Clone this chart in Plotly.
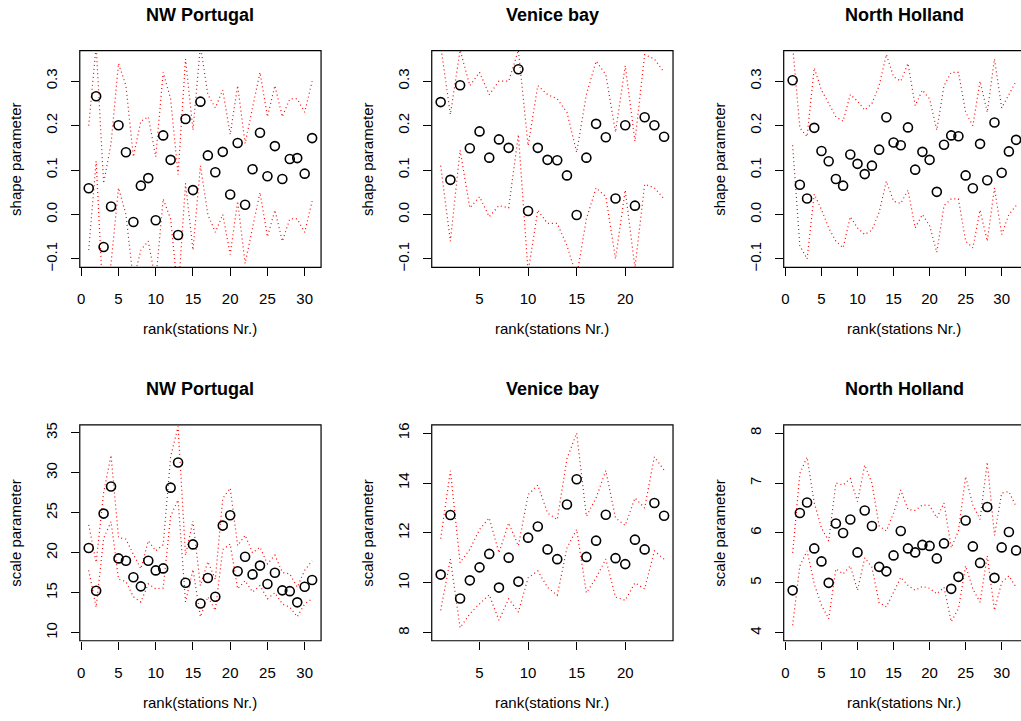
import plotly.graph_objects as go

# ---------------- text ----------------
panel_titles = ["NW Portugal", "Venice bay", "North Holland"]
ytitle_top = "shape parameter"
ytitle_bottom = "scale parameter"
xtitle = "rank(stations Nr.)"

# ---------------- data: shape parameter ----------------
nwp_shape = [0.059, 0.266, -0.073, 0.018, 0.201, 0.140, -0.017, 0.065, 0.082, -0.013,
             0.178, 0.123, -0.046, 0.215, 0.055, 0.254, 0.133, 0.095, 0.141, 0.045,
             0.161, 0.022, 0.102, 0.184, 0.086, 0.154, 0.080, 0.125, 0.127, 0.092, 0.172]
nwp_shape_lo = [-0.08, 0.12, -0.22, -0.11, 0.06, 0.00, -0.15, -0.08, -0.06, -0.15,
                0.035, -0.01, -0.18, 0.07, -0.08, 0.11, 0.00, -0.04, 0.00, -0.09,
                0.03, -0.11, -0.03, 0.05, -0.05, 0.01, -0.06, -0.01, -0.01, -0.04, 0.03]
nwp_shape_hi = [0.20, 0.38, 0.07, 0.16, 0.34, 0.29, 0.13, 0.21, 0.22, 0.13,
                0.32, 0.26, 0.09, 0.35, 0.19, 0.38, 0.27, 0.24, 0.28, 0.18,
                0.29, 0.16, 0.24, 0.32, 0.22, 0.29, 0.22, 0.26, 0.26, 0.23, 0.30]

ven_shape = [0.253, 0.078, 0.291, 0.149, 0.187, 0.128, 0.169, 0.150, 0.327, 0.008,
             0.150, 0.123, 0.122, 0.088, -0.001, 0.128, 0.204, 0.174, 0.036, 0.201,
             0.020, 0.219, 0.201, 0.175]
ven_shape_lo = [0.11, -0.06, 0.145, 0.015, 0.04, -0.005, 0.02, 0.015, 0.18, -0.13,
                0.01, -0.02, -0.02, -0.07, -0.14, -0.01, 0.06, 0.04, -0.10, 0.055,
                -0.12, 0.068, 0.06, 0.035]
ven_shape_hi = [0.38, 0.225, 0.37, 0.29, 0.32, 0.27, 0.30, 0.30, 0.37, 0.155,
                0.29, 0.27, 0.26, 0.23, 0.14, 0.27, 0.345, 0.315, 0.185, 0.335,
                0.165, 0.36, 0.35, 0.32]

nh_shape = [0.302, 0.067, 0.036, 0.195, 0.143, 0.120, 0.080, 0.065, 0.135, 0.114,
            0.091, 0.110, 0.146, 0.219, 0.162, 0.156, 0.196, 0.101, 0.141, 0.123,
            0.051, 0.157, 0.178, 0.176, 0.088, 0.059, 0.159, 0.077, 0.207, 0.094,
            0.142, 0.168]
nh_shape_lo = [0.156, -0.07, -0.10, 0.046, 0.011, -0.03, -0.06, -0.075, -0.005, -0.03,
               -0.045, -0.035, 0.005, 0.075, 0.03, 0.025, 0.055, -0.03, 0.00, -0.025,
               -0.085, 0.02, 0.035, 0.035, -0.06, -0.075, 0.01, -0.06, 0.06, -0.045,
               0.00, 0.02]
nh_shape_hi = [0.38, 0.195, 0.175, 0.33, 0.28, 0.25, 0.22, 0.21, 0.27, 0.255,
               0.235, 0.25, 0.29, 0.36, 0.31, 0.30, 0.34, 0.245, 0.28, 0.26,
               0.19, 0.29, 0.32, 0.32, 0.23, 0.20, 0.30, 0.23, 0.35, 0.24,
               0.27, 0.30]

# ---------------- data: scale parameter ----------------
nwp_scale = [20.6, 15.25, 24.9, 28.3, 19.3, 19.0, 16.95, 15.8, 19.0, 17.8,
             18.05, 28.15, 31.3, 16.25, 21.05, 13.65, 16.85, 14.5, 23.4, 24.7,
             17.7, 19.5, 17.3, 18.4, 16.1, 17.5, 15.3, 15.2, 13.8, 15.75, 16.6]
nwp_scale_lo = [17.8, 13.2, 21.8, 23.9, 16.7, 16.4, 14.5, 13.85, 16.1, 15.5,
                15.6, 24.6, 26.6, 13.85, 17.9, 12.0, 14.5, 12.8, 20.4, 21.1,
                15.5, 16.5, 15.1, 15.9, 14.25, 15.0, 13.6, 13.2, 12.0, 13.6, 14.25]
nwp_scale_hi = [23.5, 18.8, 27.5, 32.2, 21.9, 21.7, 19.8, 18.0, 21.5, 20.25,
                21.0, 32.0, 35.8, 19.7, 23.95, 15.9, 18.9, 16.7, 26.8, 28.1,
                20.9, 22.2, 20.0, 20.7, 18.6, 19.7, 17.55, 17.35, 15.7, 17.8, 19.0]

ven_scale = [10.33, 12.72, 9.37, 10.10, 10.62, 11.16, 9.81, 11.01, 10.05, 11.81,
             12.26, 11.34, 10.95, 13.14, 14.15, 11.04, 11.69, 12.73, 10.99, 10.75,
             11.73, 11.34, 13.20, 12.69]
ven_scale_lo = [8.9, 10.95, 8.2, 8.76, 9.16, 9.52, 8.5, 9.36, 8.83, 10.2,
                10.48, 9.82, 9.5, 11.4, 12.14, 9.6, 10.2, 10.95, 9.43, 9.3,
                10.0, 9.76, 11.28, 10.95]
ven_scale_hi = [11.77, 14.49, 10.81, 11.34, 12.14, 12.6, 11.2, 12.4, 11.48, 13.53,
                13.92, 12.8, 12.53, 14.98, 16.0, 12.67, 13.4, 14.5, 12.6, 12.3,
                13.4, 13.0, 15.05, 14.52]

nh_scale = [4.85, 6.40, 6.61, 5.69, 5.43, 5.00, 6.19, 6.00, 6.27, 5.61,
            6.45, 6.14, 5.32, 5.23, 5.55, 6.04, 5.69, 5.61, 5.76, 5.74,
            5.49, 5.79, 4.88, 5.12, 6.25, 5.73, 5.40, 6.52, 5.10, 5.71,
            6.02, 5.65]
nh_scale_lo = [4.15, 5.34, 5.64, 4.98, 4.55, 4.28, 5.28, 5.18, 5.34, 4.85,
               5.5, 5.31, 4.6, 4.52, 4.81, 5.11, 4.95, 4.85, 4.93, 4.89,
               4.78, 4.91, 4.22, 4.48, 5.34, 4.88, 4.61, 5.54, 4.45, 5.01,
               5.14, 4.91]
nh_scale_hi = [5.6, 7.19, 7.52, 6.6, 6.1, 5.84, 7.0, 6.96, 7.09, 6.63,
               7.36, 7.0, 6.14, 6.04, 6.4, 6.86, 6.47, 6.45, 6.56, 6.55,
               6.3, 6.6, 5.7, 6.04, 7.13, 6.56, 6.27, 7.42, 5.95, 6.8,
               6.83, 6.53]

# ---------------- figure ----------------
W, H = 1021, 721
FONT = "Liberation Sans, Arial, Helvetica, sans-serif"

panels = [
    (nwp_shape, nwp_shape_lo, nwp_shape_hi),
    (ven_shape, ven_shape_lo, ven_shape_hi),
    (nh_shape, nh_shape_lo, nh_shape_hi),
    (nwp_scale, nwp_scale_lo, nwp_scale_hi),
    (ven_scale, ven_scale_lo, ven_scale_hi),
    (nh_scale, nh_scale_lo, nh_scale_hi),
]

# pixel geometry of the plot boxes
col_px = [(77, 319), (430, 672), (783, 1021)]
row_px = [(48, 267), (426, 644)]
xranges = [[-0.2, 32.2], [0.08, 24.92], [-0.24, 32.68]]
yranges = [[-0.119, 0.369], [-0.119, 0.369], [-0.119, 0.369],
           [9.0, 36.0], [7.68, 16.33], [3.84, 8.165]]
ydticks = [0.1, 0.1, 0.1, 5, 2, 1]
yformats = [".1f", ".1f", ".1f", "d", "d", "d"]

fig = go.Figure()
layout = dict(width=W, height=H, margin=dict(l=0, r=0, t=0, b=0),
              paper_bgcolor="white", plot_bgcolor="white", showlegend=False,
              font=dict(family=FONT, size=15, color="black"))
shapes = []
annotations = []

for k, (vals, lo, hi) in enumerate(panels):
    r, c = divmod(k, 3)
    idx = "" if k == 0 else str(k + 1)
    xa, ya = "x" + idx, "y" + idx
    ranks = list(range(1, len(vals) + 1))
    for band in (lo, hi):
        fig.add_trace(go.Scatter(x=ranks, y=band, mode="lines", xaxis=xa, yaxis=ya,
                                 line=dict(color="#ff0000", width=1.2, dash="1px,3px"),
                                 hoverinfo="skip"))
    fig.add_trace(go.Scatter(x=ranks, y=vals, mode="markers", xaxis=xa, yaxis=ya,
                             marker=dict(symbol="circle-open", size=9, color="black",
                                         line=dict(width=1.6, color="black"))))
    x0p, x1p = col_px[c]
    y0p, y1p = row_px[r]
    layout["xaxis" + idx] = dict(
        domain=[x0p / W, x1p / W], range=xranges[c], anchor=ya,
        tick0=0, dtick=5, ticks="outside", ticklen=8, tickwidth=1, tickcolor="black",
        showgrid=False, zeroline=False, showline=False,
        tickfont=dict(family=FONT, size=15, color="black"), ticklabelstandoff=10)
    layout["yaxis" + idx] = dict(
        domain=[1 - y1p / H, 1 - y0p / H], range=yranges[k], anchor=xa,
        tick0=0, dtick=ydticks[k], tickformat=yformats[k], tickangle=-90,
        ticks="outside", ticklen=8, tickwidth=1, tickcolor="black",
        showgrid=False, zeroline=False, showline=False,
        tickfont=dict(family=FONT, size=15, color="black"), ticklabelstandoff=8)
    shapes.append(dict(type="rect", xref=xa + " domain", yref=ya + " domain",
                       x0=0, x1=1.03 if c == 2 else 1, y0=0, y1=1,
                       line=dict(color="black", width=1.2), layer="above"))
    cx = ((x0p + (1025 if c == 2 else x1p)) / 2) / W
    # panel title
    annotations.append(dict(text="<b>%s</b>" % panel_titles[c], xref="paper", yref="paper",
                            x=cx, y=1 - (y0p - 36) / H, xanchor="center", yanchor="middle",
                            showarrow=False, font=dict(family=FONT, size=18, color="black")))
    # x title
    annotations.append(dict(text=xtitle, xref="paper", yref="paper",
                            x=cx, y=1 - (y1p + 62) / H, xanchor="center", yanchor="middle",
                            showarrow=False, font=dict(family=FONT, size=15, color="black")))
    # y title
    annotations.append(dict(text=ytitle_top if r == 0 else ytitle_bottom,
                            xref="paper", yref="paper",
                            x=(x0p - 64) / W, y=1 - ((y0p + y1p) / 2) / H,
                            xanchor="center", yanchor="middle", textangle=-90,
                            showarrow=False, font=dict(family=FONT, size=15, color="black")))

layout["shapes"] = shapes
layout["annotations"] = annotations
fig.update_layout(**layout)
fig.write_html("out.html", config={"displayModeBar": False},
               post_script="document.body.style.margin='0';")
